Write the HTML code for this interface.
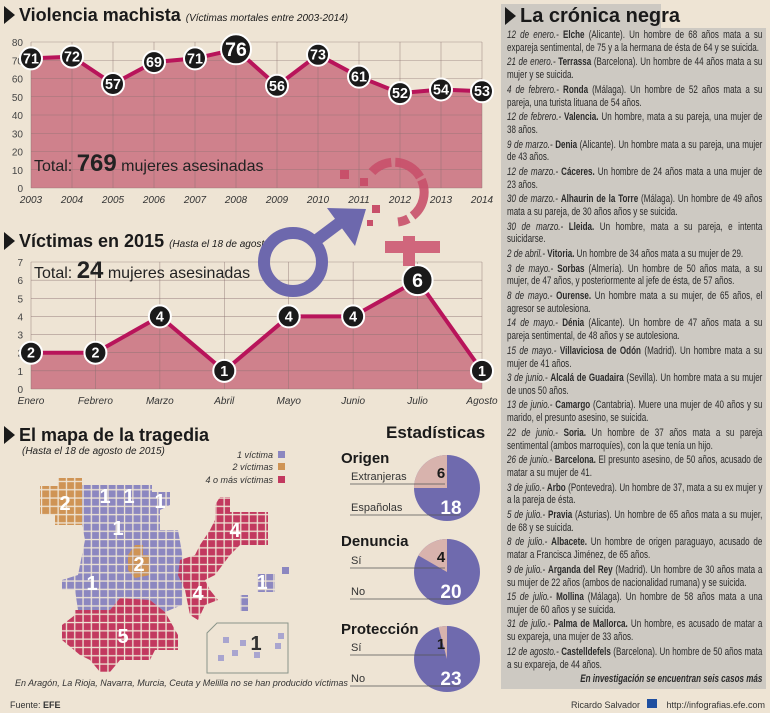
<!DOCTYPE html>
<html><head><meta charset="utf-8">
<style>
*{margin:0;padding:0;box-sizing:border-box}
body{width:770px;height:713px;overflow:hidden;background:#eee4d4;font-family:"Liberation Sans",sans-serif;position:relative;color:#222}
.abs{position:absolute}
.h{font-weight:bold;font-size:18px;color:#1a1a1a;white-space:nowrap}
.h i{font-weight:normal;font-size:10px;font-style:italic}
.tri{display:inline-block;width:0;height:0;border-top:9px solid transparent;border-bottom:9px solid transparent;border-left:11px solid #1a1a1a;vertical-align:-3px;margin-right:4px}
#panel{left:501px;top:28px;width:265px;height:661px;background:#cdc9c2}
#tab{left:501px;top:4px;width:160px;height:26px;background:#cdc9c2}
#news{left:507px;top:29px;width:336px;transform:scaleX(0.76);transform-origin:0 0;font-size:10.6px;line-height:12.85px;text-align:justify;color:#2a2a2a}
#news p{margin-bottom:1.7px}
#news i{font-style:italic}
#news b{font-weight:bold}
</style></head><body>
<div class="abs" id="tab"></div>
<div class="abs" id="panel"></div>
<div class="abs h" style="left:4px;top:5px"><span class="tri"></span>Violencia machista <i>(Víctimas mortales entre 2003-2014)</i></div>
<div class="abs h" style="left:4px;top:231px"><span class="tri"></span>Víctimas en 2015 <i>(Hasta el 18 de agosto)</i></div>
<div class="abs h" style="left:4px;top:425px"><span class="tri"></span>El mapa de la tragedia</div>
<div class="abs" style="left:22px;top:446px;font-size:10px;font-style:italic">(Hasta el 18 de agosto de 2015)</div>
<div class="abs h" style="left:505px;top:5px;font-size:20px"><span class="tri"></span>La crónica negra</div>
<div class="abs h" style="left:386px;top:423px;font-size:17px">Estadísticas</div>

<div class="abs" id="news">
<p><i>12 de enero.-</i> <b>Elche</b> (Alicante). Un hombre de 68 años mata a su expareja sentimental, de 75 y a la hermana de ésta de 64 y se suicida.</p>
<p><i>21 de enero.-</i> <b>Terrassa</b> (Barcelona). Un hombre de 44 años mata a su mujer y se suicida.</p>
<p><i>4 de febrero.-</i> <b>Ronda</b> (Málaga). Un hombre de 52 años mata a su pareja, una turista lituana de 54 años.</p>
<p><i>12 de febrero.-</i> <b>Valencia.</b> Un hombre, mata a su pareja, una mujer de 38 años.</p>
<p><i>9 de marzo.-</i> <b>Denia</b> (Alicante). Un hombre mata a su pareja, una mujer de 43 años.</p>
<p><i>12 de marzo.-</i> <b>Cáceres.</b> Un hombre de 24 años mata a una mujer de 23 años.</p>
<p><i>30 de marzo.-</i> <b>Alhaurin de la Torre</b> (Málaga). Un hombre de 49 años mata a su pareja, de 30 años años y se suicida.</p>
<p><i>30 de marzo.-</i> <b>Lleida.</b> Un hombre, mata a su pareja, e intenta suicidarse.</p>
<p><i>2 de abril.-</i> <b>Vitoria.</b> Un hombre de 34 años mata a su mujer de 29.</p>
<p><i>3 de mayo.-</i> <b>Sorbas</b> (Almería). Un hombre de 50 años mata, a su mujer, de 47 años, y posteriormente al jefe de ésta, de 57 años.</p>
<p><i>8 de mayo.-</i> <b>Ourense.</b> Un hombre mata a su mujer, de 65 años, el agresor se autolesiona.</p>
<p><i>14 de mayo.-</i> <b>Dénia</b> (Alicante). Un hombre de 47 años mata a su pareja sentimental, de 48 años y se autolesiona.</p>
<p><i>15 de mayo.-</i> <b>Villaviciosa de Odón</b> (Madrid). Un hombre mata a su mujer de 41 años.</p>
<p><i>3 de junio.-</i> <b>Alcalá de Guadaira</b> (Sevilla). Un hombre mata a su mujer de unos 50 años.</p>
<p><i>13 de junio.-</i> <b>Camargo</b> (Cantabria). Muere una mujer de 40 años y su marido, el presunto asesino, se suicida.</p>
<p><i>22 de junio.-</i> <b>Soria.</b> Un hombre de 37 años mata a su pareja sentimental (ambos marroquíes), con la que tenía un hijo.</p>
<p><i>26 de junio.-</i> <b>Barcelona.</b> El presunto asesino, de 50 años, acusado de matar a su mujer de 41.</p>
<p><i>3 de julio.-</i> <b>Arbo</b> (Pontevedra). Un hombre de 37, mata a su ex mujer y a la pareja de ésta.</p>
<p><i>5 de julio.-</i> <b>Pravia</b> (Asturias). Un hombre de 65 años mata a su mujer, de 68 y se suicida.</p>
<p><i>8 de julio.-</i> <b>Albacete.</b> Un hombre de origen paraguayo, acusado de matar a Francisca Jiménez, de 65 años.</p>
<p><i>9 de julio.-</i> <b>Arganda del Rey</b> (Madrid). Un hombre de 30 años mata a su mujer de 22 años (ambos de nacionalidad rumana) y se suicida.</p>
<p><i>15 de julio.-</i> <b>Mollina</b> (Málaga). Un hombre de 58 años mata a una mujer de 60 años y se suicida.</p>
<p><i>31 de julio.-</i> <b>Palma de Mallorca.</b> Un hombre, es acusado de matar a su expareja, una mujer de 33 años.</p>
<p><i>12 de agosto.-</i> <b>Castelldefels</b> (Barcelona). Un hombre de 50 años mata a su expareja, de 44 años.</p>
<p style="text-align:right;font-weight:bold;font-style:italic">En investigación se encuentran seis casos más</p>
</div>

<svg class="abs" style="left:0;top:0" width="770" height="713" id="svg">
<defs>
<pattern id="cellP" width="8.3" height="8.3" patternUnits="userSpaceOnUse"><rect x="0.7" y="0.7" width="7" height="7" fill="#8c87c0"/></pattern>
<pattern id="cellR" width="8.3" height="8.3" patternUnits="userSpaceOnUse"><rect x="0.7" y="0.7" width="7" height="7" fill="#c2395f"/></pattern>
<pattern id="cellO" width="8.3" height="8.3" patternUnits="userSpaceOnUse"><rect x="0.7" y="0.7" width="7" height="7" fill="#cf9455"/></pattern>
</defs>
<g id="c1"></g><g id="c2"></g>
<g>
<path d="M372,172 A30,30 0 1,1 398,222" fill="none" stroke="#c8506a" stroke-width="9" stroke-dasharray="22 4 30 3 40 5" opacity="0.9"/>
<rect x="340" y="170" width="9" height="9" fill="#c8506a"/><rect x="360" y="178" width="8" height="8" fill="#c8506a"/><rect x="372" y="205" width="8" height="8" fill="#c8506a"/><rect x="367" y="220" width="6" height="6" fill="#c8506a"/>
<rect x="385" y="241" width="55" height="12" fill="#d0667c"/><rect x="403" y="236" width="12" height="30" fill="#d0667c"/>
<circle cx="293" cy="262" r="29" fill="none" stroke="#6d68ad" stroke-width="12"/>
<line x1="314" y1="242" x2="350" y2="215" stroke="#6d68ad" stroke-width="12"/>
<polygon points="327,208 366,209 355,246" fill="#6d68ad"/>
</g>
<g>
<polygon points="40,486 58,486 58,478 82,478 82,525 55,525 55,515 40,515" fill="url(#cellO)"/>
<polygon points="82,485 152,485 152,492 170,492 170,505 160,510 160,530 178,530 185,570 182,605 165,612 150,600 120,598 110,610 78,610 75,590 62,590 62,580 78,575 85,540 82,525" fill="url(#cellP)"/>
<polygon points="135,545 143,545 143,555 150,555 150,575 135,578 128,570 128,555" fill="url(#cellO)"/>
<polygon points="75,610 110,610 120,598 150,600 165,612 178,635 178,650 155,650 150,660 120,660 110,672 100,672 90,660 80,655 62,640 62,625 75,615" fill="url(#cellR)"/>
<polygon points="220,497 230,497 230,512 268,512 268,545 240,545 230,555 215,575 205,580 210,590 218,600 205,605 198,620 190,615 185,590 178,575 180,560 195,555 200,545 210,530 215,520 215,505" fill="url(#cellR)"/>
<polygon points="257,574 275,574 275,592 257,592" fill="url(#cellP)"/>
<rect x="240" y="595" width="8" height="16" fill="url(#cellP)"/><rect x="282" y="567" width="7" height="7" fill="#8c87c0"/>
<polygon points="217,623 288,623 288,673 207,673 207,633" fill="none" stroke="#8a958a" stroke-width="1"/>
<g fill="#a9a5cf"><rect x="223" y="637" width="6" height="6"/><rect x="232" y="650" width="6" height="6"/><rect x="240" y="640" width="6" height="6"/><rect x="218" y="655" width="6" height="6"/><rect x="254" y="652" width="6" height="6"/><rect x="275" y="643" width="6" height="6"/><rect x="278" y="633" width="6" height="6"/></g>
<g font-weight="bold" font-size="20" fill="#fff" font-family="Liberation Sans" text-anchor="middle">
<text x="65" y="510">2</text><text x="105" y="503">1</text><text x="129" y="503">1</text><text x="160" y="508">1</text><text x="118" y="535">1</text><text x="139" y="571">2</text><text x="92" y="590">1</text><text x="198" y="600">4</text><text x="235" y="537">4</text><text x="123" y="643">5</text><text x="262" y="589">1</text><text x="256" y="650" fill="#333">1</text>
</g>
<g font-size="9" font-style="italic" text-anchor="end" fill="#333"><text x="273" y="458">1 víctima</text><text x="273" y="470">2 víctimas</text><text x="273" y="483">4 o más víctimas</text></g>
<rect x="278" y="451" width="7" height="7" fill="#8c87c0"/><rect x="278" y="463" width="7" height="7" fill="#cf9455"/><rect x="278" y="476" width="7" height="7" fill="#c2395f"/>
<text x="15" y="686" font-size="9" font-style="italic" fill="#333">En Aragón, La Rioja, Navarra, Murcia, Ceuta y Melilla no se han producido víctimas</text>
</g>
<text x="10" y="708" font-size="9" fill="#333">Fuente: <tspan font-weight="bold">EFE</tspan></text>
<text x="640" y="708" font-size="9" text-anchor="end" fill="#333">Ricardo Salvador</text>
<rect x="647" y="699" width="10" height="9" fill="#1f4fa0"/>
<text x="765" y="708" font-size="9" text-anchor="end" fill="#333">http://infografias.efe.com</text>
<g id="pies"></g>
</svg>
<script>
const years=["2003","2004","2005","2006","2007","2008","2009","2010","2011","2012","2013","2014"];
const yearVals=[71,72,57,69,71,76,56,73,61,52,54,53];
const yTicks1=[0,10,20,30,40,50,60,70,80];
const months=["Enero","Febrero","Marzo","Abril","Mayo","Junio","Julio","Agosto"];
const monthVals=[2,2,4,1,4,4,6,1];
const yTicks2=[0,1,2,3,4,5,6,7];
const pieTitles=["Origen","Denuncia","Protección"];
const pieLabelsA=["Extranjeras","Sí","Sí"];
const pieLabelsB=["Españolas","No","No"];
const pieA=[6,4,1];
const pieB=[18,20,23];
const NS="http://www.w3.org/2000/svg";
function mk(p,t,a){const e=document.createElementNS(NS,t);for(const k in a)e.setAttribute(k,a[k]);p.appendChild(e);return e;}
function chart(g,cats,vals,ticks,max,x0,x1,yTop,yBot,labY,total,totY,big){
  const sx=i=>x0+(x1-x0)*i/(cats.length-1);
  const sy=v=>yBot-(yBot-yTop)*v/max;
  let pts=vals.map((v,i)=>sx(i)+","+sy(v)).join(" ");
  const area=mk(g,"polygon",{points:x0+","+yBot+" "+pts+" "+x1+","+yBot,fill:"#c9707f",opacity:"0.85"});
  
  
  ticks.forEach(t=>{
    mk(g,"line",{x1:x0,x2:x1,y1:sy(t),y2:sy(t),stroke:"#8a7070","stroke-width":0.6,opacity:0.7});
    const tx=mk(g,"text",{x:x0-8,y:sy(t)+4,"font-size":10,"text-anchor":"end",fill:"#444"});tx.textContent=t;
    
    
  });
  cats.forEach((c,i)=>{
    mk(g,"line",{x1:sx(i),x2:sx(i),y1:yTop,y2:yBot,stroke:"#8a7070","stroke-width":0.6,opacity:0.7});
    const tx=mk(g,"text",{x:sx(i),y:labY,"font-size":10,"font-style":"italic","text-anchor":"middle",fill:"#333"});tx.textContent=c;
    
    
  });
  const ln=mk(g,"polyline",{points:pts,fill:"none",stroke:"#b8145a","stroke-width":4});
  
  
  const tt=mk(g,"text",{x:x0+3,y:totY,"font-size":16,fill:"#222"});
  tt.innerHTML='Total: <tspan font-weight="bold" font-size="24">'+total+'</tspan> mujeres asesinadas';
  
  
  const mi=vals.indexOf(Math.max(...vals));
  vals.forEach((v,i)=>{
    const r=(i===mi&&big)?15:11;
    const c=mk(g,"circle",{cx:sx(i),cy:sy(v),r:r,fill:"#1a1a1a",stroke:"#fff","stroke-width":2});
    
    
    const t=mk(g,"text",{x:sx(i),y:sy(v)+r*0.45,"font-size":r*1.3,"font-weight":"bold","text-anchor":"middle",fill:"#fff"});t.textContent=v;
    
    
  });
}
chart(document.getElementById("c1"),years,yearVals,yTicks1,80,31,482,42,188,203,769,171,true);
chart(document.getElementById("c2"),months,monthVals,yTicks2,7,31,482,262,389,404,24,278,true);
const pg=document.getElementById("pies");
const cy0=[488,572,659],py=[463,546,634];
pieA.forEach((a,i)=>{
  const cx=447,cy=cy0[i],r=33,tot=a+pieB[i];
  const tt=mk(pg,"text",{x:341,y:py[i],"font-size":15,"font-weight":"bold",fill:"#1a1a1a"});tt.textContent=pieTitles[i];
  
  
  const c=mk(pg,"circle",{cx:cx,cy:cy,r:r,fill:"#6f6aae"});
  
  
  const ang=2*Math.PI*a/tot, ex=cx-r*Math.sin(ang), ey=cy-r*Math.cos(ang);
  const s=mk(pg,"path",{d:`M${cx},${cy} L${cx},${cy-r} A${r},${r} 0 ${ang>Math.PI?1:0},0 ${ex},${ey} Z`,fill:"#d8b3ad"});
  
  
  const la=mk(pg,"text",{x:351,y:cy-8,"font-size":11,fill:"#333"});la.textContent=pieLabelsA[i];
  
  
  const lb=mk(pg,"text",{x:351,y:cy+23,"font-size":11,fill:"#333"});lb.textContent=pieLabelsB[i];
  
  
  mk(pg,"line",{x1:350,x2:445,y1:cy-4,y2:cy-4,stroke:"#555","stroke-width":0.8});
  mk(pg,"line",{x1:350,x2:460,y1:cy+27,y2:cy+27,stroke:"#555","stroke-width":0.8});
  const va=mk(pg,"text",{x:cx-6,y:cy-10,"font-size":15,"font-weight":"bold","text-anchor":"middle",fill:"#1a1a1a"});va.textContent=a;
  
  
  const vb=mk(pg,"text",{x:cx+4,y:cy+26,"font-size":19,"font-weight":"bold","text-anchor":"middle",fill:"#fff"});vb.textContent=pieB[i];
  
  
});
</script>
</body></html>
